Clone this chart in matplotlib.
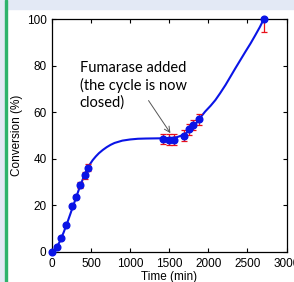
import matplotlib.pyplot as plt
from matplotlib.patches import Rectangle

# measured points (time in min, conversion in %)
t_pts = [0, 60, 120, 185, 255, 305, 360, 420, 455,
         1415, 1500, 1560, 1685, 1750, 1810, 1875, 2710]
conv_pts = [0, 2.2, 6.2, 11.4, 19.6, 23.6, 28.8, 33.0, 36.2,
            48.5, 48.2, 48.2, 49.9, 52.6, 54.5, 57.0, 100]
err_lo = [0.3, 0.4, 0.5, 0.6, 0.8, 1.0, 1.3, 1.5, 1.5,
          2.3, 2.3, 2.3, 2.3, 2.3, 2.3, 2.3, 5.5]
err_hi = [0.3, 0.4, 0.5, 0.6, 0.8, 1.0, 1.3, 1.5, 1.5,
          2.3, 2.3, 2.3, 2.3, 2.3, 2.3, 2.3, 5.5]

# fitted curve
t_fit = [0, 50, 100, 150, 200, 250, 300, 350, 400, 420, 450, 480, 520,
         560, 600, 650, 700, 750, 800, 900, 1000, 1100, 1200, 1400, 1500,
         1600, 1650, 1700, 1750, 1800, 1850, 1900, 1960, 2030, 2090, 2150,
         2220, 2280, 2345, 2410, 2475, 2540, 2600, 2660, 2710]
conv_fit = [0, 1.5, 4.5, 8.5, 13.0, 17.8, 22.6, 27.4, 31.8, 33.5, 35.6,
            37.4, 39.4, 41.0, 42.4, 43.8, 45.0, 46.0, 46.8, 47.8, 48.3,
            48.6, 48.7, 48.8, 48.9, 49.3, 49.9, 50.7, 51.8, 53.3, 55.4,
            57.8, 60.3, 62.8, 65.2, 68.1, 71.7, 75.1, 78.8, 82.4, 86.0,
            89.5, 93.0, 96.6, 100]

plt.rcParams['font.family'] = ['Liberation Sans', 'DejaVu Sans']

fig = plt.figure(figsize=(2.94, 2.82), dpi=100)
fig.patches.append(Rectangle((7 / 294, 1 - 9 / 282), 1, 9 / 282,
                             transform=fig.transFigure, color='#e3e9f5',
                             zorder=0))
fig.patches.append(Rectangle((0, 0), 5 / 294, 1,
                             transform=fig.transFigure, color='#e3e9f5',
                             zorder=0))
fig.patches.append(Rectangle((5 / 294, 0), 2 / 294, 1,
                             transform=fig.transFigure, color='#2fb36c',
                             zorder=0))

ax = fig.add_axes([52 / 294, 30 / 282, 234.5 / 294, 233 / 282])
ax.plot(t_fit, conv_fit, color='#0a14e6', lw=1.5, zorder=2)
ax.errorbar(t_pts, conv_pts, yerr=[err_lo, err_hi], fmt='none',
            ecolor='#e8101a', elinewidth=0.9, capsize=2, capthick=0.9,
            zorder=3)
ax.plot(t_pts, conv_pts, 'o', color='#0a14e6', ms=4.8, zorder=4,
        clip_on=False)

ax.set_xlim(0, 3000)
ax.set_ylim(0, 100)
ax.set_xticks(range(0, 3001, 500))
ax.set_yticks(range(0, 101, 20))
ax.tick_params(direction='in', length=3, width=0.8, top=True, right=True,
               labelsize=8.5, pad=4)
for s in ax.spines.values():
    s.set_linewidth(0.9)
ax.set_xlabel('Time (min)', fontsize=8.5, labelpad=1)
ax.set_ylabel('Conversion (%)', fontsize=8.5)
ax.yaxis.set_label_coords(-0.124, 0.5)

ax.text(355, 61, 'Fumarase added\n(the cycle is now\nclosed)',
        fontsize=10.5, family=['Lato', 'DejaVu Sans'],
        linespacing=1.25, va='bottom')
ax.annotate('', xy=(1515, 51), xytext=(1235, 65),
            arrowprops=dict(arrowstyle='->', color='#555555', lw=0.7,
                            shrinkA=0, shrinkB=0))

fig.savefig('out.png', dpi=100)
